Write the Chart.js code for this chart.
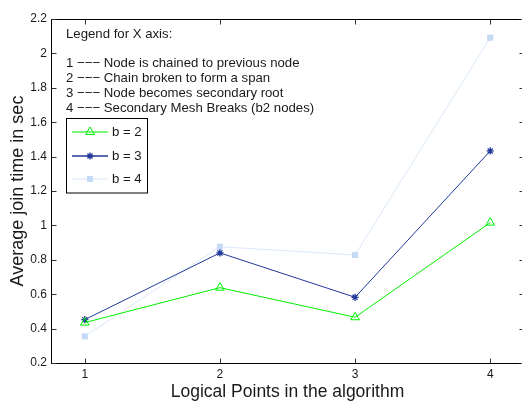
<!DOCTYPE html>
<html>
<head>
<meta charset="utf-8">
<script src="https://cdn.jsdelivr.net/npm/chart.js@4/dist/chart.umd.min.js"></script>
<style>
html,body{margin:0;padding:0;background:#fff;overflow:hidden;}
#c{display:block;}
</style>
</head>
<body>
<canvas id="c" width="530" height="401" style="width:530px;height:401px"></canvas>
<script>
const logicalPoints = [1, 2, 3, 4];
const seriesB2 = [0.435, 0.638, 0.466, 1.016];
const seriesB3 = [0.452, 0.840, 0.582, 1.433];
const seriesB4 = [0.355, 0.876, 0.828, 2.091];
const seriesLabels = ['b = 2', 'b = 3', 'b = 4'];
const xTicks = [1, 2, 3, 4];
const yTicks = [0.2, 0.4, 0.6, 0.8, 1, 1.2, 1.4, 1.6, 1.8, 2, 2.2];
const xLegendTitle = 'Legend for X axis:';
const xLegendLines = [
  '1 \u2212\u2212\u2212 Node is chained to previous node',
  '2 \u2212\u2212\u2212 Chain broken to form a span',
  '3 \u2212\u2212\u2212 Node becomes secondary root',
  '4 \u2212\u2212\u2212 Secondary Mesh Breaks (b2 nodes)'
];

const FONT = '"Liberation Sans", Arial, Helvetica, sans-serif';
const TXT = '#1a1a1a';

function pts(vals){ return logicalPoints.map((x,i)=>({x:x, y:vals[i]})); }

const datasets = [
  {label: seriesLabels[0], data: pts(seriesB2), borderColor:'#00f000', backgroundColor:'rgba(0,0,0,0)',
   pointStyle:'triangle', pointRadius:5, pointBorderColor:'#00f000', pointBackgroundColor:'rgba(0,0,0,0)', pointBorderWidth:1, borderWidth:1, order:1},
  {label: seriesLabels[1], data: pts(seriesB3), borderColor:'#22399a', backgroundColor:'#22399a',
   pointStyle:'star', pointRadius:3.6, pointBorderColor:'#22399a', pointBackgroundColor:'#22399a', pointBorderWidth:1.3, borderWidth:1, order:2},
  {label: seriesLabels[2], data: pts(seriesB4), borderColor:'#dbe7f9', backgroundColor:'#c6d9f5',
   pointStyle:'rect', pointRadius:4.3, pointBorderColor:'#c6d9f5', pointBackgroundColor:'#c6d9f5', pointBorderWidth:0, borderWidth:1, order:3}
];

const framePlugin = {
  id:'frame',
  afterDraw(chart){
    const ctx = chart.ctx, a = chart.chartArea;
    const xs = chart.scales.x, ys = chart.scales.y;
    ctx.save();
    ctx.strokeStyle = '#000';
    ctx.lineWidth = 1;
    const L = Math.round(a.left)+0.5, R = Math.round(a.right)+0.5, T = Math.round(a.top)+0.5, B = Math.round(a.bottom)+0.5;
    ctx.strokeRect(L, T, R-L, B-T);
    ctx.strokeStyle = '#333';
    const tl = 5;
    ctx.beginPath();
    xTicks.forEach(v=>{
      const px = Math.round(xs.getPixelForValue(v))+0.5;
      ctx.moveTo(px, B); ctx.lineTo(px, B-tl);
      ctx.moveTo(px, T); ctx.lineTo(px, T+tl);
    });
    yTicks.forEach(v=>{
      const py = Math.round(ys.getPixelForValue(v))+0.5;
      ctx.moveTo(L, py); ctx.lineTo(L+tl, py);
      ctx.moveTo(R, py); ctx.lineTo(R-tl, py);
    });
    ctx.stroke();

    // x-axis legend text
    ctx.fillStyle = TXT;
    ctx.font = '13.2px ' + FONT;
    ctx.textBaseline = 'middle';
    ctx.textAlign = 'left';
    ctx.fillText(xLegendTitle, 66, 34);
    const lineY = [63.5, 78.5, 93.5, 108.5];
    xLegendLines.forEach((t,i)=>ctx.fillText(t, 66, lineY[i]));

    // series legend box
    const bx = 66.5, by = 118.5, bw = 81, bh = 74.5;
    ctx.fillStyle = '#fff';
    ctx.fillRect(bx, by, bw, bh);
    ctx.strokeStyle = '#000';
    ctx.lineWidth = 1;
    ctx.strokeRect(bx, by, bw, bh);
    const ey = [132, 156, 179];
    chart.data.datasets.forEach((ds,i)=>{
      const y = ey[i];
      ctx.strokeStyle = ds.borderColor;
      ctx.lineWidth = i===1 ? 1.6 : 1.2;
      ctx.beginPath(); ctx.moveTo(72, y); ctx.lineTo(108, y); ctx.stroke();
      ctx.fillStyle = ds.pointBackgroundColor;
      ctx.strokeStyle = ds.pointBorderColor;
      ctx.lineWidth = ds.pointBorderWidth || 0;
      Chart.helpers.drawPoint(ctx, {
        pointStyle: ds.pointStyle, rotation:0, radius: ds.pointRadius,
        borderWidth: ds.pointBorderWidth || 0
      }, 90, y);
      ctx.fillStyle = TXT;
      ctx.font = '13.2px ' + FONT;
      ctx.textBaseline = 'middle';
      ctx.fillText(ds.label, 112, y+0.5);
    });
    ctx.restore();
  }
};

new Chart(document.getElementById('c'), {
  type:'line',
  data:{datasets: datasets},
  options:{
    responsive:false,
    animation:false,
    devicePixelRatio:1,
    layout:{padding:{top:19, right:6, left:0, bottom:0}},
    plugins:{legend:{display:false}, tooltip:{enabled:false}},
    elements:{line:{tension:0}},
    scales:{
      x:{
        type:'linear', min:0.75, max:4.25,
        grid:{display:false, drawTicks:false}, border:{display:false},
        afterBuildTicks(s){ s.ticks = xTicks.map(v=>({value:v})); },
        afterFit(s){ s.height = 38; },
        ticks:{padding:4, color:TXT, font:{family:FONT, size:12}, maxRotation:0, callback:(v)=>String(v)},
        title:{display:true, text:'Logical Points in the algorithm', color:TXT, font:{family:FONT, size:17.5, lineHeight:1}, padding:{top:0, bottom:0}}
      },
      y:{
        type:'linear', min:0.2, max:2.2,
        grid:{display:false, drawTicks:false}, border:{display:false},
        afterBuildTicks(s){ s.ticks = yTicks.map(v=>({value:v})); },
        afterFit(s){ s.width = 51; },
        ticks:{padding:4, color:TXT, font:{family:FONT, size:12}, callback:(v)=>String(Number(v.toFixed(1)))},
        title:{display:true, text:'Average join time in sec', color:TXT, font:{family:FONT, size:18, lineHeight:1}, padding:{top:9, bottom:0}}
      }
    }
  },
  plugins:[framePlugin]
});
</script>
</body>
</html>
